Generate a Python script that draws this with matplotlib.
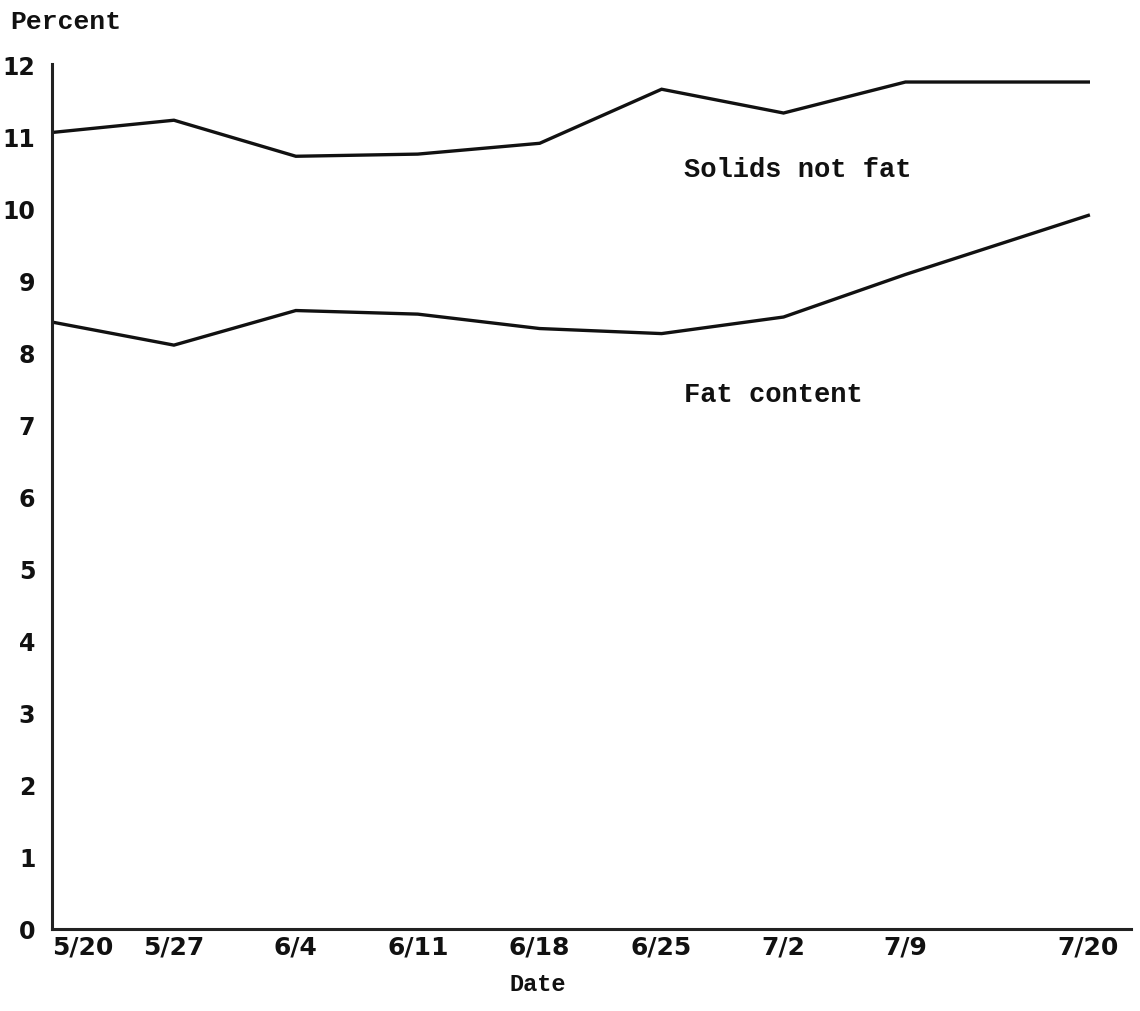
import matplotlib
matplotlib.use("Agg")
import matplotlib.pyplot as plt

# data
dates = ["5/20", "5/27", "6/4", "6/11", "6/18", "6/25", "7/2", "7/9", "7/20"]
x_pos = [0, 1, 2, 3, 4, 5, 6, 7, 8.5]
solids_not_fat = [11.05, 11.22, 10.72, 10.75, 10.9, 11.65, 11.32, 11.75, 11.75]
fat_content = [8.42, 8.1, 8.58, 8.53, 8.33, 8.26, 8.49, 9.08, 9.9]
y_ticks = list(range(0, 13))

mono = "Liberation Mono"

fig = plt.figure(figsize=(11.4, 10.12), dpi=100)
ax = fig.add_axes([52/1140, 82/1012, 1079/1140, 865/1012])

ax.plot(x_pos, solids_not_fat, color="#111111", lw=2.4, solid_joinstyle="miter")
ax.plot(x_pos, fat_content, color="#111111", lw=2.4, solid_joinstyle="miter")

ax.set_xlim(0, 8.85)
ax.set_ylim(0, 12)
ax.set_xticks(x_pos)
ax.set_xticklabels(dates, fontsize=18, fontweight="bold")
# first date label sits right of the corner, as in the original
ax.get_xticklabels()[0].set_horizontalalignment("left")
ax.set_yticks(y_ticks)
ax.set_yticklabels([str(v) for v in y_ticks], fontsize=17, fontweight="bold")
ax.tick_params(length=0, colors="#111111")
ax.tick_params(axis="x", pad=4)
ax.tick_params(axis="y", pad=12)

for s in ["top", "right"]:
    ax.spines[s].set_visible(False)
for s in ["left", "bottom"]:
    ax.spines[s].set_linewidth(2.2)
    ax.spines[s].set_color("#222222")

ax.text(5.18, 10.54, "Solids not fat", family=mono, fontweight="bold",
        fontsize=19.5, va="center", ha="left", color="#111111")
ax.text(5.18, 7.42, "Fat content", family=mono, fontweight="bold",
        fontsize=19.5, va="center", ha="left", color="#111111")

fig.text(10/1140, 1 - 22/1012, "Percent", family=mono, fontweight="bold",
         fontsize=19, va="center", ha="left", color="#111111")
fig.text(538/1140, 1 - 985/1012, "Date", family=mono, fontweight="bold",
         fontsize=17, va="center", ha="center", color="#111111")

fig.savefig("out.png", dpi=100, facecolor="white")
